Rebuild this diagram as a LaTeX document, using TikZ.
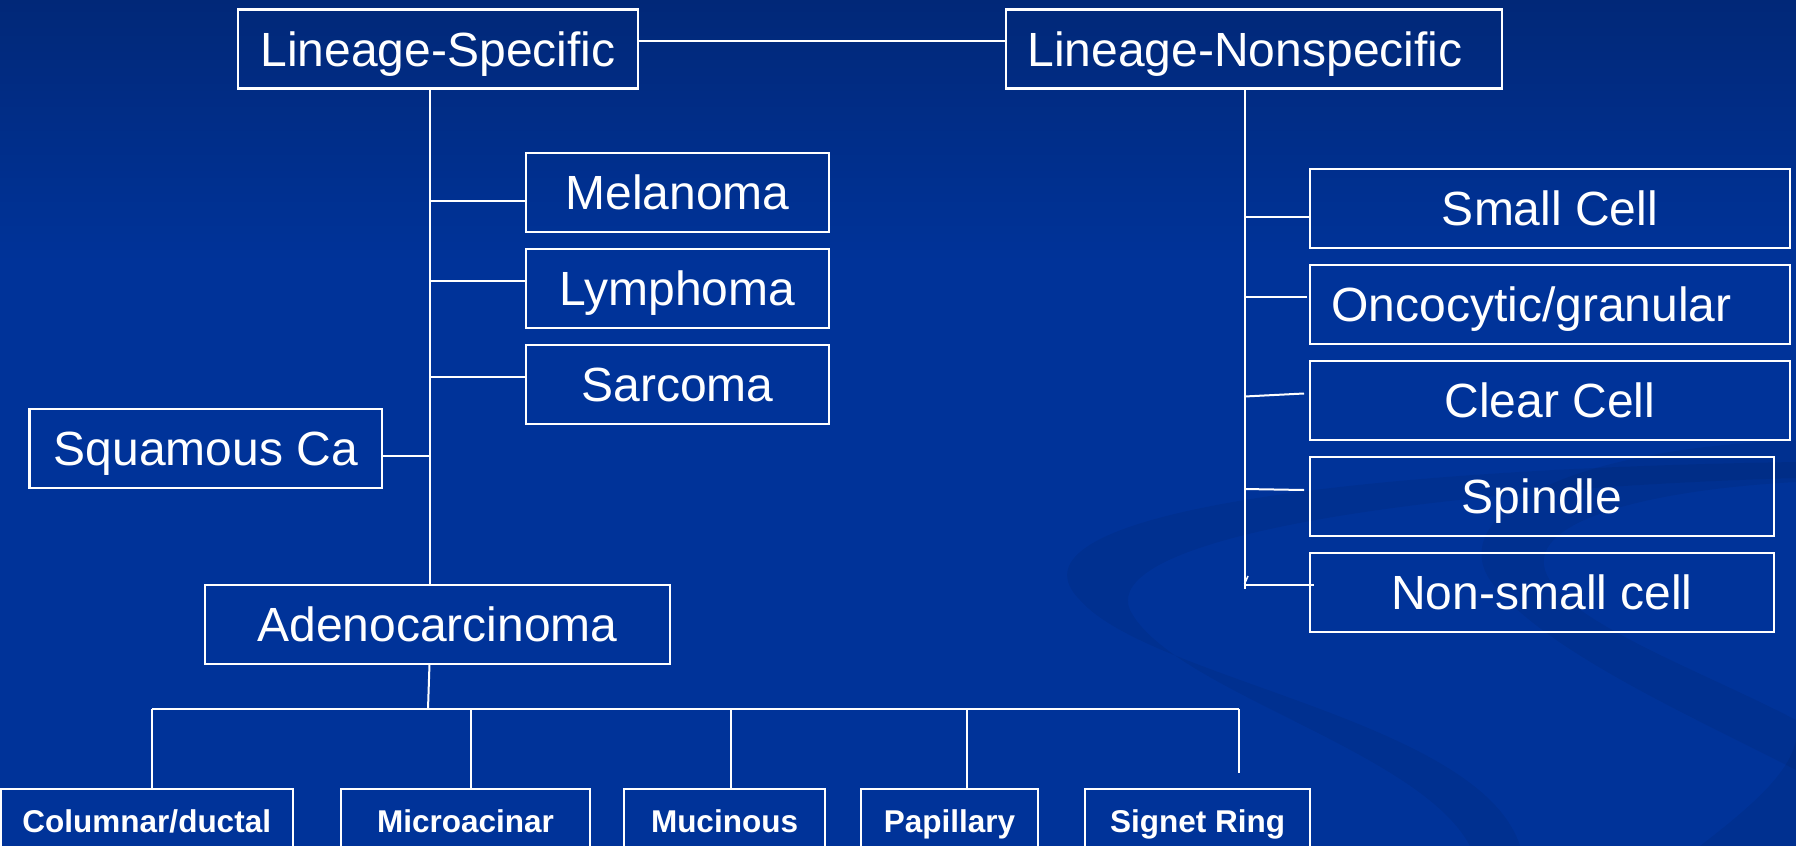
\documentclass[tikz,border=0pt]{standalone}
\usepackage{fontspec}
\setmainfont{Liberation Sans}
\definecolor{bgtop}{RGB}{1,40,120}
\definecolor{bgmid}{RGB}{0,51,153}
\begin{document}
\begin{tikzpicture}[x=1pt,y=-1pt,
  box/.style={draw=white, line width=2.5pt, anchor=north west, outer sep=0pt,
    inner xsep=0pt, inner ysep=22.3pt, text height=34.4pt, text depth=0pt,
    font=\fontsize{48}{50}\selectfont, text=white},
  sbox/.style={draw=white, line width=2.5pt, anchor=north west, outer sep=0pt,
    inner xsep=0pt, inner ysep=21pt, text height=22.6pt, text depth=50pt,
    font=\fontsize{31.5}{33}\selectfont\bfseries, text=white},
  link/.style={draw=white, line width=2pt},
  swoosh/.style={fill=black, fill opacity=0.06}]
\useasboundingbox (0,0) rectangle (1796,846);
\clip (0,0) rectangle (1796,846);
% background
\shade[top color=bgtop, bottom color=bgmid] (0,0) rectangle (1796,261);
\fill[bgmid] (0,260) rectangle (1796,846);
\fill[swoosh] (1796,462) .. controls (1300,470) and (1000,520) .. (1080,600)
  .. controls (1150,680) and (1480,720) .. (1520,846) -- (1470,846)
  .. controls (1420,750) and (1170,690) .. (1130,610)
  .. controls (1100,540) and (1400,490) .. (1796,478) -- cycle;
\fill[swoosh] (1796,440) .. controls (1550,450) and (1450,520) .. (1490,580)
  .. controls (1540,650) and (1700,720) .. (1796,770) -- (1796,720)
  .. controls (1700,670) and (1560,620) .. (1545,570)
  .. controls (1530,520) and (1650,490) .. (1796,482) -- cycle;
\fill[swoosh] (1700,846) .. controls (1760,800) and (1790,770) .. (1796,740) -- (1796,846) -- cycle;

% top level
\node[box, minimum width=400pt] (ls) at (238,9.5) {Lineage-Specific};
\node[box, minimum width=496pt] (ln) at (1006,9.5) {Lineage-Nonspecific\kern18pt};
% lineage specific children
\node[box, minimum width=303pt] (mel) at (526,153) {Melanoma};
\node[box, minimum width=303pt] (lym) at (526,249) {Lymphoma};
\node[box, minimum width=303pt] (sar) at (526,345) {Sarcoma};
\node[box, minimum width=352.5pt] (squ) at (29.5,409) {Squamous Ca};
\node[box, minimum width=465pt] (ade) at (205,585) {Adenocarcinoma};
% lineage nonspecific children
\node[box, minimum width=480pt] (sc) at (1310,169) {Small Cell};
\node[box, minimum width=480pt] (onc) at (1310,265) {Oncocytic/granular\kern37pt};
\node[box, minimum width=480pt] (clr) at (1310,361) {Clear Cell};
\node[box, minimum width=464pt] (spi) at (1310,457) {Spindle};
\node[box, minimum width=464pt] (nsc) at (1310,553) {Non-small cell};
% adenocarcinoma children
\node[sbox, minimum width=292.5pt] (col) at (0.5,789) {Columnar/ductal};
\node[sbox, minimum width=249pt] (mic) at (341,789) {Microacinar};
\node[sbox, minimum width=201pt] (muc) at (624,789) {Mucinous};
\node[sbox, minimum width=177pt] (pap) at (861,789) {Papillary};
\node[sbox, minimum width=225pt] (sig) at (1085,789) {Signet Ring};

% connectors
\draw[link] ([yshift=8pt]ls.east) -- ([yshift=8pt]ln.west);
\coordinate (tx) at (429.5,0);
\draw[link] (ls.south -| tx) -- (ade.north -| tx);
\draw[link] ([yshift=-8.5pt]mel.west) -- ([yshift=-8.5pt]mel.west -| tx);
\draw[link] ([yshift=7.5pt]lym.west) -- ([yshift=7.5pt]lym.west -| tx);
\draw[link] ([yshift=7.5pt]sar.west) -- ([yshift=7.5pt]sar.west -| tx);
\draw[link] ([yshift=-7.5pt]squ.east) -- ([yshift=-7.5pt]squ.east -| tx);

\coordinate (rx) at (1244.5,0);
\coordinate (rend) at (1244.5,589);
\draw[link] (ln.south -| rx) -- (rend);
\draw[link] ([yshift=-8.5pt]sc.west) -- ([yshift=-8.5pt]sc.west -| rx);
\draw[link] ([xshift=-3pt,yshift=8pt]onc.west) -- ([yshift=8pt]onc.west -| rx);
\draw[link] ([xshift=-6pt,yshift=7pt]clr.west) -- ([yshift=4pt]clr.west -| rx);
\draw[link] ([xshift=-6pt,yshift=6.5pt]spi.west) -- ([yshift=7.5pt]spi.west -| rx);
\draw[link] ([xshift=4pt,yshift=7.5pt]nsc.west) -- ([yshift=7.5pt]nsc.west -| rx);
\draw[link, line width=1.5pt] ([yshift=5pt]rend) -- ([xshift=3.5pt,yshift=13pt]rend);

\coordinate (bl) at (152,709);
\coordinate (d2) at (471,709);
\coordinate (d3) at (731,709);
\coordinate (d4) at (967,709);
\coordinate (br) at (1239,709);
\draw[link] (ade.south -| tx) -- (428,709);
\draw[link] (bl) -- (br);
\draw[link] (bl) -- (bl |- col.north);
\draw[link] (d2) -- (d2 |- mic.north);
\draw[link] (d3) -- (d3 |- muc.north);
\draw[link] (d4) -- (d4 |- pap.north);
\draw[link] (br) -- ++(0,64);
\end{tikzpicture}
\end{document}
